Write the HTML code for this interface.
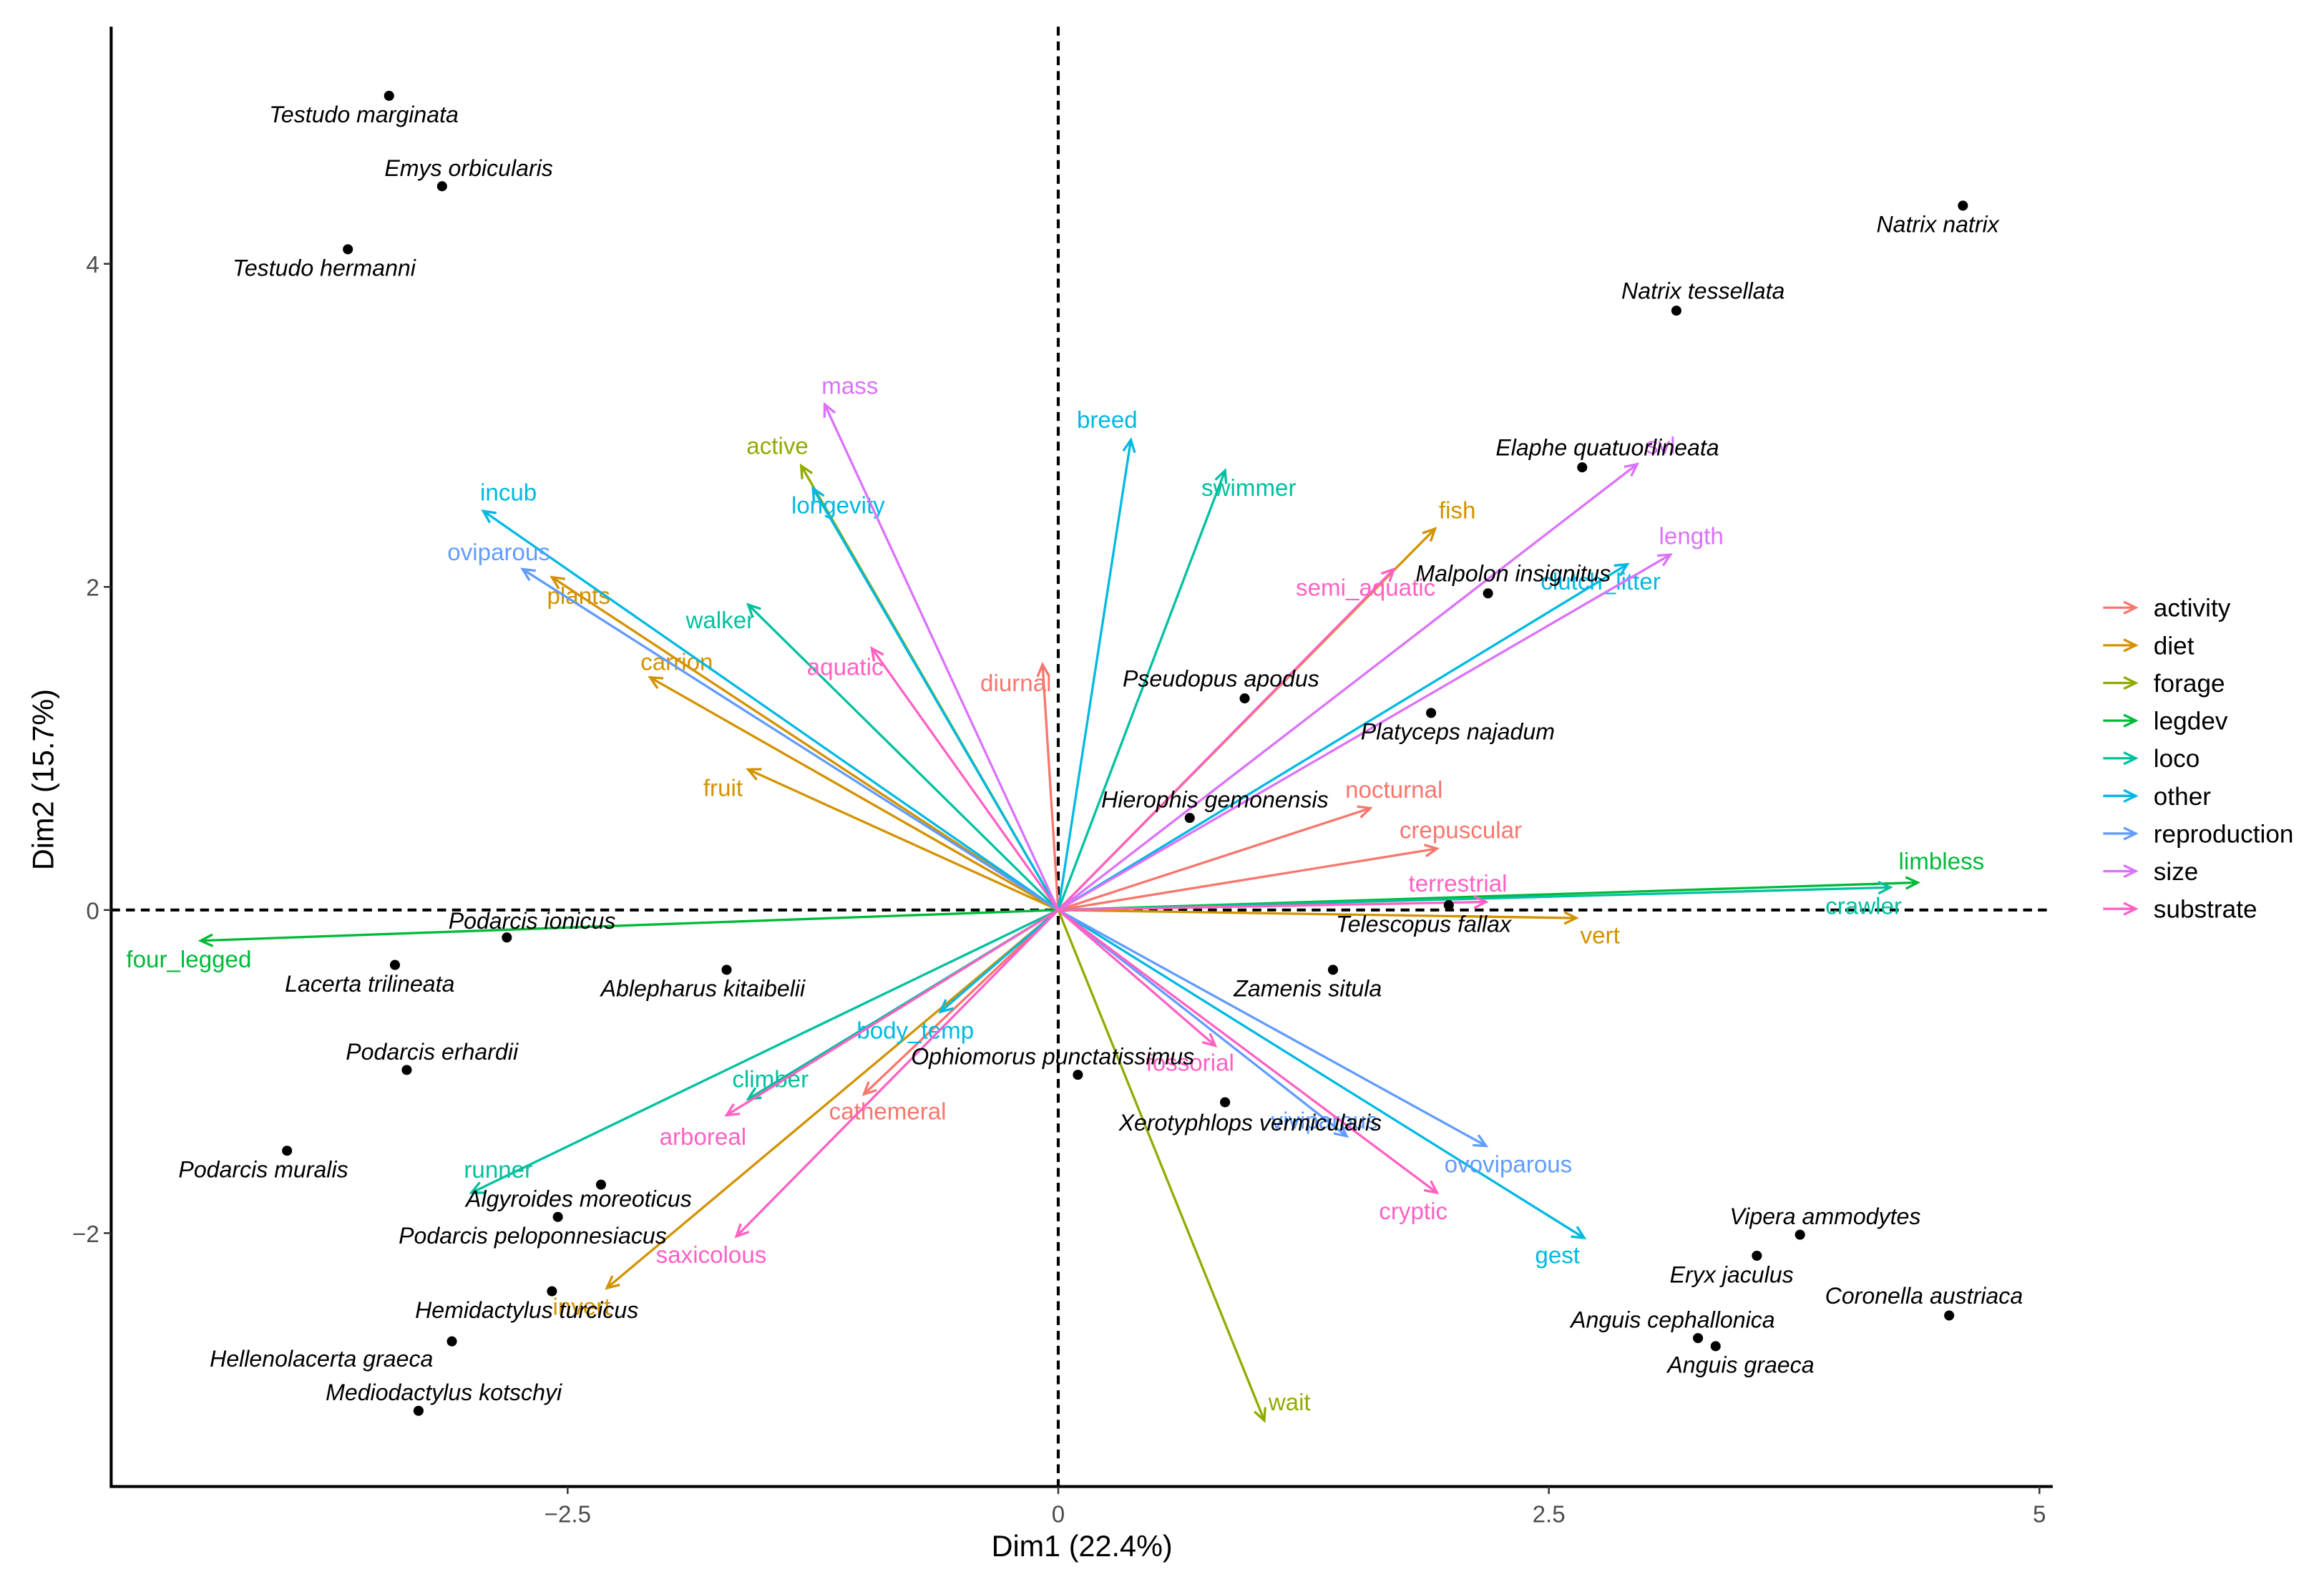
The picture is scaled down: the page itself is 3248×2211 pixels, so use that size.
<!DOCTYPE html>
<html><head><meta charset="utf-8"><style>
html,body{margin:0;padding:0;background:#fff}
svg{display:block}
text{font-family:"Liberation Sans",sans-serif}
</style></head><body>
<svg id="chart" width="3248" height="2211" viewBox="0 0 1568 1067.4" preserveAspectRatio="none" xmlns="http://www.w3.org/2000/svg">
<rect x="0" y="0" width="1568" height="1068" fill="#fff"/>
<g id="axes"></g>
<g id="arrows"></g>
<g id="points"></g>
<g id="legend"></g>
</svg>
<script>
// ---- data ----
const speciesNames=["Testudo marginata","Emys orbicularis","Testudo hermanni","Natrix natrix","Natrix tessellata","Elaphe quatuorlineata","Malpolon insignitus","Pseudopus apodus","Platyceps najadum","Hierophis gemonensis","Telescopus fallax","Zamenis situla","Podarcis ionicus","Lacerta trilineata","Ablepharus kitaibelii","Podarcis erhardii","Ophiomorus punctatissimus","Xerotyphlops vermicularis","Podarcis muralis","Algyroides moreoticus","Podarcis peloponnesiacus","Hemidactylus turcicus","Hellenolacerta graeca","Mediodactylus kotschyi","Vipera ammodytes","Eryx jaculus","Coronella austriaca","Anguis cephallonica","Anguis graeca"];
const speciesDim1=[-3.41,-3.14,-3.62,4.61,3.15,2.67,2.19,0.95,1.90,0.67,1.99,1.40,-2.81,-3.38,-1.69,-3.32,0.10,0.85,-3.93,-2.33,-2.55,-2.58,-3.09,-3.26,3.78,3.56,4.54,3.26,3.35];
const speciesDim2=[5.04,4.48,4.09,4.36,3.71,2.74,1.96,1.31,1.22,0.57,0.03,-0.37,-0.17,-0.34,-0.37,-0.99,-1.02,-1.19,-1.49,-1.70,-1.90,-2.36,-2.67,-3.10,-2.01,-2.14,-2.51,-2.65,-2.70];
const varNames=["diurnal","nocturnal","crepuscular","cathemeral","fish","plants","carrion","fruit","vert","invert","active","wait","limbless","four_legged","swimmer","walker","crawler","climber","runner","incub","breed","longevity","clutch_litter","body_temp","gest","oviparous","viviparous","ovoviparous","mass","svl","length","aquatic","semi_aquatic","terrestrial","fossorial","arboreal","saxicolous","cryptic"];
const varGroups=["activity","activity","activity","activity","diet","diet","diet","diet","diet","diet","forage","forage","legdev","legdev","loco","loco","loco","loco","loco","other","other","other","other","other","other","reproduction","reproduction","reproduction","size","size","size","substrate","substrate","substrate","substrate","substrate","substrate","substrate"];
const varDim1=[-0.08,1.59,1.93,-0.99,1.92,-2.58,-2.08,-1.58,2.64,-2.30,-1.31,1.05,4.38,-4.37,0.85,-1.58,4.24,-1.58,-2.99,-2.93,0.37,-1.25,2.90,-0.60,2.68,-2.73,1.47,2.18,-1.19,2.95,3.12,-0.95,1.71,2.18,0.80,-1.69,-1.64,1.93];
const varDim2=[1.52,0.63,0.38,-1.14,2.36,2.06,1.44,0.87,-0.05,-2.34,2.75,-3.16,0.17,-0.19,2.72,1.89,0.14,-1.17,-1.75,2.47,2.91,2.61,2.14,-0.63,-2.03,2.11,-1.40,-1.46,3.13,2.76,2.20,1.62,2.11,0.05,-0.84,-1.27,-2.02,-1.75];
const groupNames=["activity","diet","forage","legdev","loco","other","reproduction","size","substrate"];
const xTicks=[-2.5,0,2.5,5];
const yTicks=[-2,0,2,4];
const xTickLabels=["\u22122.5","0","2.5","5"];
const yTickLabels=["\u22122","0","2","4"];
// ---- styling ----
const groupColors={activity:"#F8766D",diet:"#D39200",forage:"#93AA00",legdev:"#00BA38",loco:"#00C19F",other:"#00B9E3",reproduction:"#619CFF",size:"#DB72FB",substrate:"#FF61C3"};
const speciesLabelOff=[[-17,13],[18,-12],[-16,13],[-17,13],[18,-13],[17,-13],[17,-13],[-16,-13],[18,13],[17,-12],[-17,13],[-17,13],[17,-11],[-17,13],[-16,13],[17,-12],[-17,-12],[17,14],[-16,13],[-15,10],[-17,13],[-17,13],[-88,12],[17,-12],[17,-12],[-17,13],[-17,-13],[-17,-12],[17,13]];
const varLabelOff=[[-18,13],[16,-12],[16,-12],[16,12],[15,-12],[18,13],[18,-10],[-17,13],[16,12],[-17,13],[-16,-13],[17,-12],[16,-14],[-8,13],[16,12],[-19,11],[-18,13],[15,-13],[18,-15],[17,-12],[-16,-13],[17,12],[-18,12],[-17,13],[-18,12],[-16,-11],[-15,-10],[15,13],[17,-12],[16,-12],[14,-12],[-18,13],[-19,13],[-19,-12],[-17,12],[-16,15],[-17,13],[-16,13]];
const X0=714, XS=132.4, Y0=614, YS=109;
const L=75,R=1385,T=18,B=1003;
const sx=v=>X0+v*XS, sy=v=>Y0-v*YS;
const NS="http://www.w3.org/2000/svg";
function mk(tag,attrs,parent){const e=document.createElementNS(NS,tag);for(const k in attrs)e.setAttribute(k,attrs[k]);parent.appendChild(e);return e;}
const axes=document.getElementById('axes');
// dashed zero lines
let e=mk('line',{x1:L,x2:R,y1:sy(0),y2:sy(0),stroke:'#000','stroke-width':2,'stroke-dasharray':'6,4'},axes);


e=mk('line',{x1:sx(0),x2:sx(0),y1:T,y2:B,stroke:'#000','stroke-width':2,'stroke-dasharray':'6,4'},axes);


e=mk('polyline',{points:`${L},${T} ${L},${B} ${R},${B}`,fill:'none',stroke:'#000','stroke-width':2},axes);


xTicks.forEach((t,i)=>{
 let tk=mk('line',{x1:sx(t),x2:sx(t),y1:B,y2:B+5,stroke:'#333','stroke-width':1.2},axes);
 
 
 let tl=mk('text',{x:sx(t),y:B+24,'text-anchor':'middle','font-size':16,fill:'#4d4d4d'},axes);
 tl.textContent=xTickLabels[i];
 
 
});
yTicks.forEach((t,i)=>{
 let tk=mk('line',{x1:L-5,x2:L,y1:sy(t),y2:sy(t),stroke:'#333','stroke-width':1.2},axes);
 
 
 let tl=mk('text',{x:L-8,y:sy(t)+6,'text-anchor':'end','font-size':16,fill:'#4d4d4d'},axes);
 tl.textContent=yTickLabels[i];
 
 
});
e=mk('text',{x:730,y:1050,'text-anchor':'middle','font-size':20,fill:'#000'},axes);
e.textContent='Dim1 (22.4%)';


e=mk('text',{x:0,y:0,'text-anchor':'middle','font-size':20,fill:'#000',transform:'translate(36,526) rotate(-90)'},axes);
e.textContent='Dim2 (15.7%)';


// arrows
const ag=document.getElementById('arrows');
function arrow(parent,x1,y1,x2,y2,col){
 const g=mk('g',{},parent);
 mk('line',{x1,y1,x2,y2,stroke:col,'stroke-width':1.6},g);
 const a=Math.atan2(y2-y1,x2-x1),h=9,w=0.45;
 mk('polyline',{points:`${x2-h*Math.cos(a-w)},${y2-h*Math.sin(a-w)} ${x2},${y2} ${x2-h*Math.cos(a+w)},${y2-h*Math.sin(a+w)}`,fill:'none',stroke:col,'stroke-width':1.6},g);
 return g;
}
varNames.forEach((n,i)=>{
 const col=groupColors[varGroups[i]];
 const tx=sx(varDim1[i]),ty=sy(varDim2[i]);
 const g=arrow(ag,sx(0),sy(0),tx,ty,col);
 
 
 const t=mk('text',{x:tx+varLabelOff[i][0],y:ty+varLabelOff[i][1]+5,'text-anchor':'middle','font-size':16,fill:col},ag);
 t.textContent=n;
 
 
});
// points
const pg=document.getElementById('points');
speciesNames.forEach((n,i)=>{
 const px=sx(speciesDim1[i]),py=sy(speciesDim2[i]);
 const c=mk('circle',{cx:px,cy:py,r:3.4,fill:'#000'},pg);
 
 
 const t=mk('text',{x:px+speciesLabelOff[i][0],y:py+speciesLabelOff[i][1]+5,'text-anchor':'middle','font-size':15.5,'font-style':'italic',fill:'#000'},pg);
 t.textContent=n;
 
 
});
// legend
const lg=document.getElementById('legend');
groupNames.forEach((n,i)=>{
 const y=410+i*25.4;
 const g=arrow(lg,1419,y,1441,y,groupColors[n]);
 
 
 const t=mk('text',{x:1453,y:y+6,'font-size':17,fill:'#000'},lg);
 t.textContent=n;
 
 
});
</script>
</body></html>
